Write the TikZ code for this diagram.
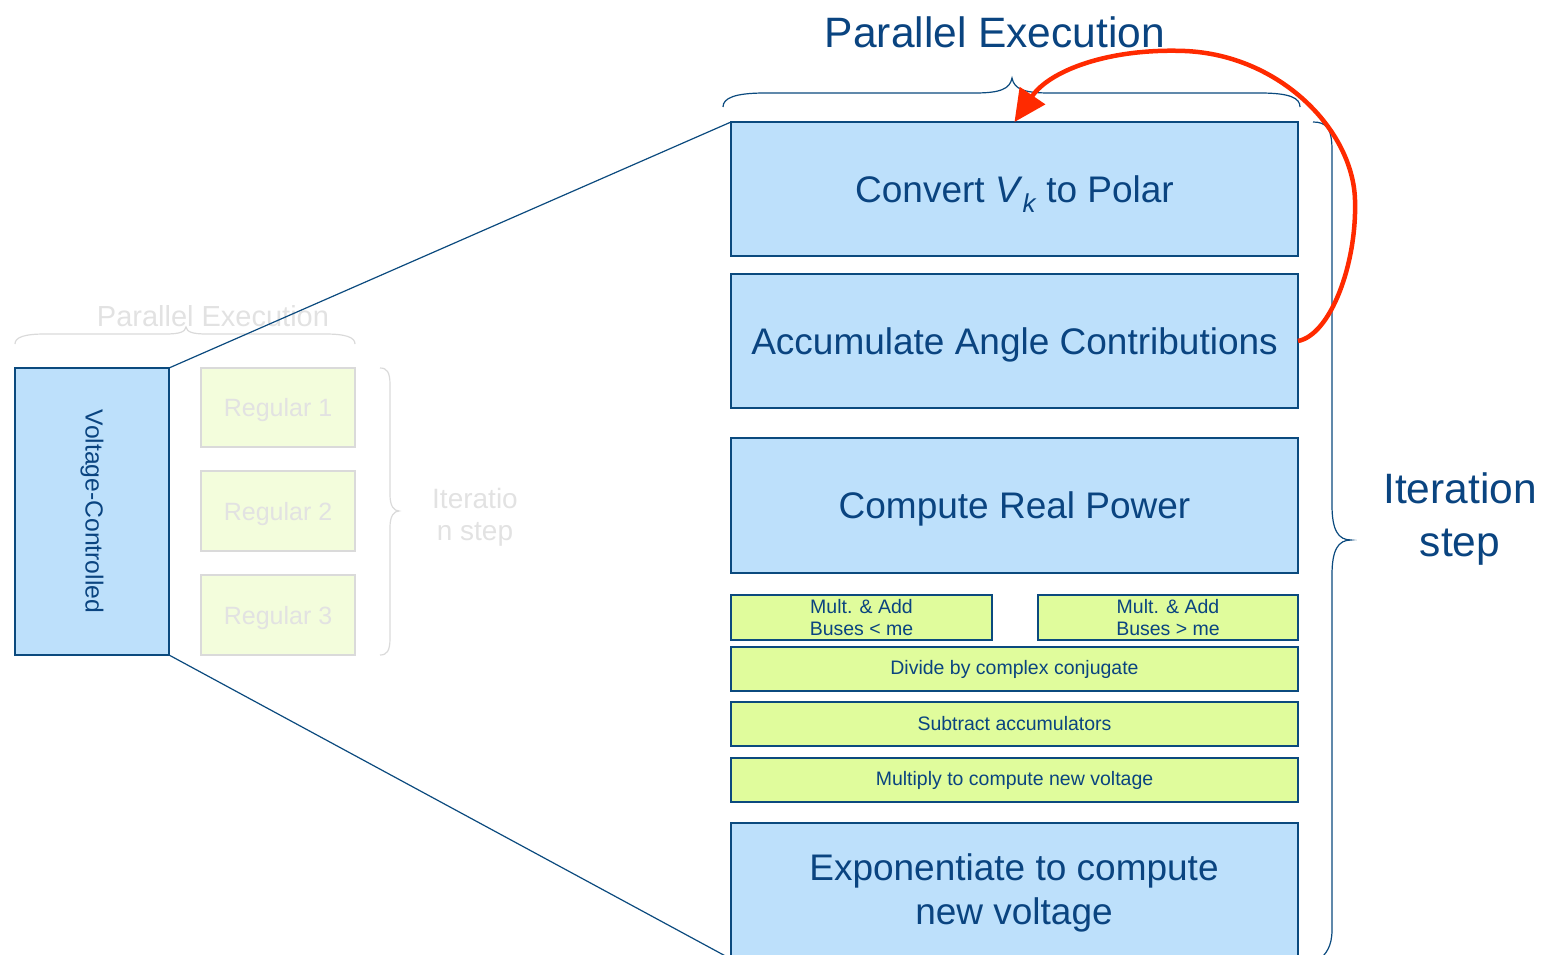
\documentclass[tikz,border=0pt]{standalone}
\usepackage{fontspec}
\setmainfont{Liberation Sans}
\usetikzlibrary{arrows.meta}
\definecolor{dblue}{HTML}{0B4A7E}
\definecolor{tblue}{HTML}{0A4480}
\definecolor{lblue}{HTML}{BDE0FB}
\definecolor{lgreen}{HTML}{E0FC9C}
\definecolor{fgreen}{HTML}{F3FDDC}
\definecolor{fgray}{HTML}{DADADA}
\definecolor{ftext}{HTML}{E2E2E2}
\definecolor{ared}{HTML}{FF2A00}
\begin{document}
\begin{tikzpicture}[x=1pt,y=-1pt,
  bigbox/.style={draw=dblue,line width=1.5pt,fill=lblue,text=tblue,inner sep=0pt,outer sep=0pt,anchor=north west,align=center,text depth=0pt,font=\fontsize{37}{44}\selectfont},
  smallbox/.style={draw=dblue,line width=1.5pt,fill=lgreen,text=tblue,inner sep=0pt,outer sep=0pt,anchor=north west,align=center,font=\fontsize{19.5}{22}\selectfont},
  fadebox/.style={draw=fgray,line width=1.5pt,fill=fgreen,text=ftext,inner sep=0pt,outer sep=0pt,anchor=north west,align=center,text depth=0pt,font=\fontsize{25}{30}\selectfont},
  brace/.style={draw=dblue,line width=1.2pt},
  fbrace/.style={draw=fgray,line width=1.2pt},
  lbl/.style={text=tblue,align=center}]
\useasboundingbox (0,0) rectangle (1545,955);
\clip (0,0) rectangle (1545,955);
% left faded part
\node[bigbox,minimum width=154pt,minimum height=287pt] (vc) at (15,368) {};
\node[text=tblue,rotate=-90,font=\fontsize{24.7}{28}\selectfont] (vct) at (vc.center) {Voltage-Controlled};
\node[fadebox,minimum width=154pt,minimum height=79pt] (r1) at (201,368) {Regular 1};
\node[fadebox,minimum width=154pt,minimum height=80pt] (r2) at (201,471) {Regular 2};
\node[fadebox,minimum width=154pt,minimum height=80pt] (r3) at (201,575) {Regular 3};
\node[text=ftext,font=\fontsize{29}{34}\selectfont] (fpe) at (213,316) {Parallel Execution};
\node[text=ftext,align=center,font=\fontsize{28}{32}\selectfont] (fit) at (475,517) {Iteratio\\n step};
\path[fbrace] (15,344) .. controls (15,337) and (25,334) .. (45,334) -- (165,334) .. controls (180,334) and (185,332) .. (186,327) .. controls (187,332) and (192,334) .. (207,334) -- (325,334) .. controls (345,334) and (355,337) .. (355,344);
\path[fbrace] (380,368) .. controls (387,368) and (390,372) .. (390,385) -- (390,495) .. controls (390,506) and (394,511) .. (399,511) .. controls (394,511) and (390,516) .. (390,527) -- (390,638) .. controls (390,651) and (387,655) .. (380,655);
% right main part
\node[bigbox,minimum width=567pt,minimum height=134pt] (conv) at (731,122) {Convert \textit{V}\textsubscript{\itshape k} to Polar};
\node[bigbox,minimum width=567pt,minimum height=134pt] (acc) at (731,274) {Accumulate Angle Contributions};
\node[bigbox,minimum width=567pt,minimum height=135pt] (crp) at (731,438) {Compute Real Power};
\node[smallbox,minimum width=261pt,minimum height=45pt] (mal) at (731,595) {Mult. \& Add\\Buses < me};
\node[smallbox,minimum width=260pt,minimum height=45pt] (mar) at (1038,595) {Mult. \& Add\\Buses > me};
\node[smallbox,minimum width=567pt,minimum height=44pt] (div) at (731,647) {Divide by complex conjugate};
\node[smallbox,minimum width=567pt,minimum height=44pt] (sub) at (731,702) {Subtract accumulators};
\node[smallbox,minimum width=567pt,minimum height=44pt] (mul) at (731,758) {Multiply to compute new voltage};
\node[bigbox,minimum width=567pt,minimum height=136pt] (expo) at (731,823) {};
\node[text=tblue,align=center,font=\fontsize{37}{44}\selectfont] (expot) at (1014,893) {Exponentiate to compute\\new voltage};
% zoom lines
\draw[dblue,line width=1.2pt] (vc.north east) -- (conv.north west);
\draw[dblue,line width=1.2pt] (vc.south east) -- (expo.south west);
% braces
\path[brace] (723,107) .. controls (723,98) and (735,93) .. (765,93) -- (975,93) .. controls (1000,93) and (1010,89) .. (1012,78) .. controls (1014,89) and (1024,93) .. (1049,93) -- (1260,93) .. controls (1290,93) and (1300,98) .. (1300,107);
\path[brace] (1313,122) .. controls (1326,122) and (1332,128) .. (1332,150) -- (1332,505) .. controls (1332,530) and (1338,540) .. (1351,540) .. controls (1338,540) and (1332,550) .. (1332,575) -- (1332,930) .. controls (1332,946) and (1326,955) .. (1318,960);
\node[lbl,font=\fontsize{42.5}{48}\selectfont] (pe) at (995,32) {Parallel Execution};
\node[lbl,font=\fontsize{42.5}{53}\selectfont] (its) at (1460,519) {Iteration\\step};
% red feedback arrow
\draw[ared,line width=4.5pt,-{Triangle[length=32pt,width=30pt]}] (acc.east) .. controls (1330,335) and (1357,265) .. (1355,200) .. controls (1353,130) and (1280,55) .. (1185,51) .. controls (1110,48) and (1050,70) .. (conv.north);
\end{tikzpicture}
\end{document}
